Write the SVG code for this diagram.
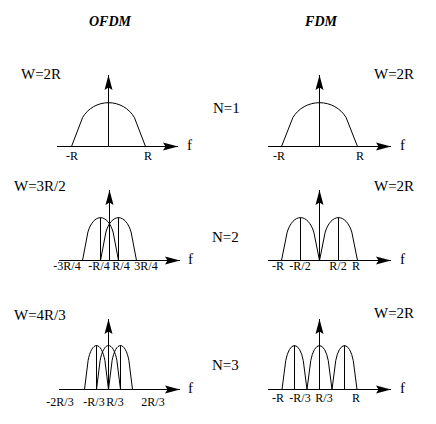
<svg xmlns="http://www.w3.org/2000/svg" width="436" height="424" viewBox="0 0 436 424">
<style>
  .ax{stroke:#000;stroke-width:1;fill:none;marker-end:url(#ah)}
  .ln{stroke:#000;stroke-width:1;fill:none}
  .hp{stroke:#000;stroke-width:1;fill:none}
  text{font-family:"Liberation Serif","Times New Roman",serif;fill:#000}
  .t{font-size:14px;font-weight:bold;font-style:italic;text-anchor:middle}
  .w{font-size:15px}
  .lc{font-size:12px;text-anchor:middle}
  .f{font-size:15px}
</style>
<defs>
  <marker id="ah" markerUnits="userSpaceOnUse" viewBox="-16 -5 17 10" refX="0" refY="0" markerWidth="17" markerHeight="10" orient="auto">
    <path d="M0,0 L-15,-4 L-12.5,0 L-15,4 Z" fill="#000"/>
  </marker>
</defs>
<rect width="436" height="424" fill="#fff"/>

<g id="titles">
  <text class="t" x="110" y="26">OFDM</text>
  <text class="t" x="321" y="26">FDM</text>
</g>

<g id="n-labels">
  <text class="w" x="213" y="113">N=1</text>
  <text class="w" x="212" y="242">N=2</text>
  <text class="w" x="212" y="370">N=3</text>
</g>

<g id="ofdm1">
  <text class="w" x="21" y="79">W=2R</text>
  <path class="hp" d="M71.5,146.5 L82.6,117.5 A30,29.9 0 0 1 134.4,117.5 L145.5,146.5"/>
  <text class="lc" x="72" y="160">-R</text>
  <text class="lc" x="148" y="160">R</text>
  <text class="f" x="187" y="150">f</text>
</g>

<g id="fdm1">
  <text class="w" x="374" y="79">W=2R</text>
  <path class="hp" d="M281.5,146.5 L292.9,117.5 A30.8,29.9 0 0 1 346.1,117.5 L357.5,146.5"/>
  <text class="lc" x="279" y="160">-R</text>
  <text class="lc" x="360" y="160">R</text>
  <text class="f" x="400" y="150">f</text>
</g>

<g id="ofdm2">
  <text class="w" x="14" y="191">W=3R/2</text>
  <path class="hp" d="M82.5,260.5 L87.9,232.1 A14.6,29.2 0 0 1 113.1,232.1 L118.5,260.5"/>
  <path class="hp" d="M100.5,260.5 L105.9,232.1 A14.6,29.2 0 0 1 131.1,232.1 L136.5,260.5"/>
  <path class="ln" d="M100.5,260.5 V217.5 M118.5,260.5 V217.5"/>
  <text class="lc" x="67" y="270">-3R/4</text>
  <text class="lc" x="99" y="270">-R/4</text>
  <text class="lc" x="121" y="270">R/4</text>
  <text class="lc" x="146" y="270">3R/4</text>
  <text class="f" x="188" y="264">f</text>
</g>

<g id="fdm2">
  <text class="w" x="374" y="191">W=2R</text>
  <path class="hp" d="M281.5,260.5 L287.2,232.1 A15.4,29.2 0 0 1 313.8,232.1 L319.5,260.5"/>
  <path class="hp" d="M319.5,260.5 L325.2,232.1 A15.4,29.2 0 0 1 351.8,232.1 L357.5,260.5"/>
  <path class="ln" d="M300.5,260.5 V217.5 M338.5,260.5 V217.5"/>
  <text class="lc" x="278" y="270">-R</text>
  <text class="lc" x="300" y="270">-R/2</text>
  <text class="lc" x="338" y="270">R/2</text>
  <text class="lc" x="356" y="270">R</text>
  <text class="f" x="400" y="264">f</text>
</g>

<g id="ofdm3">
  <text class="w" x="14" y="320">W=4R/3</text>
  <path class="hp" d="M84.5,389.5 L88.1,360.5 A9.7,29.9 0 0 1 104.9,360.5 L108.5,389.5"/>
  <path class="hp" d="M96.5,389.5 L100.1,360.5 A9.7,29.9 0 0 1 116.9,360.5 L120.5,389.5"/>
  <path class="hp" d="M108.5,389.5 L112.1,360.5 A9.7,29.9 0 0 1 128.9,360.5 L132.5,389.5"/>
  <path class="ln" d="M96.5,389.5 V345.5 M120.5,389.5 V345.5"/>
  <text class="lc" x="60" y="406">-2R/3</text>
  <text class="lc" x="94" y="406">-R/3</text>
  <text class="lc" x="115" y="406">R/3</text>
  <text class="lc" x="153" y="406">2R/3</text>
  <text class="f" x="188" y="393">f</text>
</g>

<g id="fdm3">
  <text class="w" x="374" y="318">W=2R</text>
  <path class="hp" d="M282,389.5 L285.75,360.5 A10.1,29.9 0 0 1 303.25,360.5 L307,389.5"/>
  <path class="hp" d="M307,389.5 L310.75,360.5 A10.1,29.9 0 0 1 328.25,360.5 L332,389.5"/>
  <path class="hp" d="M332,389.5 L335.75,360.5 A10.1,29.9 0 0 1 353.25,360.5 L357,389.5"/>
  <path class="ln" d="M294.5,389.5 V345.5 M344.5,389.5 V345.5"/>
  <text class="lc" x="278" y="402">-R</text>
  <text class="lc" x="300" y="402">-R/3</text>
  <text class="lc" x="324" y="402">R/3</text>
  <text class="lc" x="356" y="402">R</text>
  <text class="f" x="400" y="393">f</text>
</g>

<g id="connectors">
  <path class="ax" d="M57,146.5 H178"/>
  <path class="ax" d="M108.5,146.5 V75"/>
  <path class="ax" d="M268,146.5 H391"/>
  <path class="ax" d="M319.5,146.5 V75"/>
  <path class="ax" d="M59,260.5 H180"/>
  <path class="ax" d="M109.5,260.5 V190"/>
  <path class="ax" d="M268,260.5 H391"/>
  <path class="ax" d="M319.5,260.5 V190"/>
  <path class="ax" d="M59,389.5 H180"/>
  <path class="ax" d="M108.5,389.5 V319"/>
  <path class="ax" d="M268,389.5 H391"/>
  <path class="ax" d="M319.5,389.5 V319"/>
</g>
</svg>
